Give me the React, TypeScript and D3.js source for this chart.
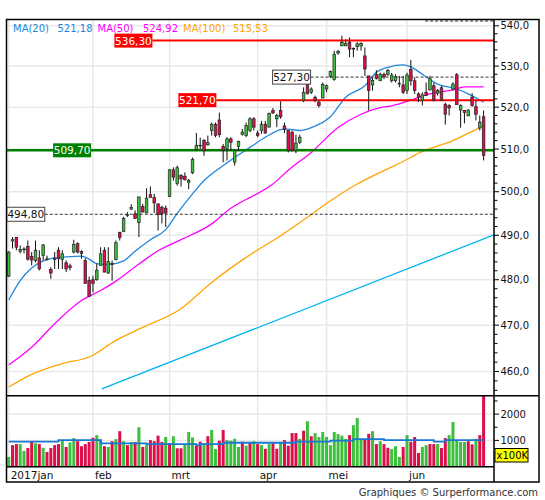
import * as d3 from 'd3';

const monthLabels = ['2017jan', 'feb', 'mrt', 'apr', 'mei', 'jun'];
const monthStarts = [0, 22, 42, 65, 83, 104];

// daily candles, index 0 = first trading day of january
const open = [
  480.8, 488.7, 489.5, 486.3, 486.8, 487.5, 485.2, 484.3, 484.9, 485.4,
  484.6, 482.3, 484.5, 486.6, 484.5, 483.8, 483.1, 486.2, 488.1, 486.3,
  484.3, 479.8, 480.0, 480.0, 483.2, 486.6, 481.5, 483.6, 484.5, 490.7,
  490.9, 494.6, 496.0, 494.9, 492.9, 496.6, 495.1, 499.3, 498.7, 497.2,
  496.4, 496.2, 498.9, 505.1, 501.9, 503.8, 503.6, 502.2, 504.4, 509.9,
  510.8, 512.0, 511.0, 514.4, 515.9, 516.9, 510.6, 510.2, 512.4, 506.9,
  510.6, 513.5, 513.2, 514.4, 517.2, 513.8, 514.4, 515.9, 515.2, 519.2,
  517.2, 519.2, 515.5, 514.4, 514.0, 509.7, 511.6, 521.6, 525.5, 523.6,
  522.4, 521.2, 522.2, 524.4, 527.5, 526.7, 533.2, 535.0, 535.0, 535.8,
  534.4, 534.8, 535.0, 532.5, 527.6, 525.4, 527.9, 526.4, 528.0, 528.0,
  526.4, 526.4, 525.6, 525.4, 524.0, 529.2, 526.4, 523.2, 521.6, 523.6,
  524.2, 525.2, 523.4, 524.7, 520.7, 520.4, 524.4, 527.9, 519.3, 519.2,
  517.9, 522.4, 520.1, 515.0, 517.7,
];
const high = [
  486.4, 489.6, 489.6, 487.7, 487.3, 488.8, 486.2, 488.8, 486.6, 488.0,
  485.4, 482.8, 486.2, 487.3, 486.6, 484.3, 483.6, 489.0, 488.4, 486.6,
  484.8, 480.7, 480.9, 483.6, 487.3, 487.3, 487.3, 484.3, 488.8, 490.7,
  494.2, 495.3, 497.1, 495.7, 498.8, 497.2, 500.8, 501.2, 499.5, 497.2,
  496.8, 496.8, 505.3, 505.7, 506.1, 504.1, 504.5, 503.0, 508.0, 513.8,
  512.7, 512.4, 513.2, 516.3, 516.3, 518.7, 511.2, 512.8, 512.8, 509.6,
  512.0, 514.8, 516.3, 517.6, 517.6, 514.4, 516.7, 516.7, 518.7, 519.8,
  518.4, 521.4, 516.3, 514.4, 514.4, 513.4, 513.4, 524.8, 526.4, 524.8,
  522.8, 521.6, 526.0, 525.5, 528.9, 533.8, 534.0, 537.5, 536.6, 537.1,
  534.6, 535.9, 535.9, 534.6, 527.6, 527.2, 529.0, 528.4, 528.4, 529.3,
  528.3, 528.0, 527.6, 527.6, 528.4, 531.5, 527.2, 523.6, 523.6, 526.0,
  527.6, 526.0, 524.4, 525.2, 521.1, 520.7, 526.0, 528.3, 520.7, 519.3,
  519.5, 523.4, 521.6, 518.0, 519.2,
];
const low = [
  480.6, 487.0, 486.6, 485.9, 485.9, 484.3, 483.2, 483.9, 482.1, 484.3,
  484.3, 480.2, 482.4, 482.4, 482.4, 481.7, 482.1, 485.9, 485.9, 484.7,
  479.1, 476.3, 477.2, 479.8, 483.2, 481.7, 481.3, 479.8, 484.3, 488.8,
  490.7, 494.2, 495.8, 493.8, 489.6, 495.3, 495.1, 498.7, 495.1, 491.1,
  492.7, 491.9, 498.9, 502.6, 501.4, 501.2, 502.6, 500.6, 504.1, 509.6,
  509.9, 508.4, 510.8, 513.2, 512.8, 512.8, 506.9, 507.3, 509.6, 506.1,
  509.6, 513.2, 512.8, 514.0, 514.4, 512.8, 513.6, 513.6, 515.2, 518.4,
  515.2, 517.2, 513.8, 509.2, 509.4, 509.0, 511.2, 521.2, 523.2, 523.2,
  521.2, 519.9, 522.2, 523.6, 527.1, 526.4, 532.8, 535.0, 535.0, 532.2,
  532.2, 533.8, 533.8, 527.6, 519.2, 524.0, 526.7, 526.4, 526.8, 527.6,
  526.0, 526.0, 524.8, 523.2, 523.2, 525.2, 523.2, 521.2, 520.4, 522.8,
  524.0, 521.4, 522.8, 521.6, 515.8, 518.0, 524.0, 520.6, 515.1, 516.1,
  517.9, 520.1, 516.8, 514.4, 507.3,
];
const close = [
  486.2, 489.0, 487.3, 486.8, 486.9, 484.6, 484.4, 486.6, 482.4, 487.8,
  484.7, 481.5, 484.8, 484.7, 485.8, 482.4, 482.7, 487.9, 486.2, 485.9,
  479.2, 476.3, 479.2, 482.1, 485.8, 481.7, 484.1, 483.6, 488.3, 489.5,
  493.8, 494.7, 496.4, 493.8, 498.8, 495.3, 498.5, 498.7, 497.4, 494.7,
  494.9, 495.1, 505.1, 503.4, 505.6, 503.0, 502.8, 502.6, 507.5, 510.9,
  510.9, 509.6, 511.5, 515.9, 513.2, 513.4, 509.6, 512.4, 511.6, 509.6,
  511.8, 514.0, 515.6, 517.2, 515.2, 513.2, 515.9, 513.8, 518.5, 518.6,
  518.0, 517.7, 514.6, 509.6, 509.7, 511.4, 512.8, 523.6, 523.2, 524.4,
  521.6, 520.4, 525.5, 525.2, 528.7, 532.9, 533.6, 535.8, 535.6, 534.2,
  534.2, 535.5, 535.6, 529.3, 524.0, 526.5, 527.0, 528.0, 527.4, 528.9,
  527.8, 527.4, 525.8, 523.6, 527.8, 526.4, 524.0, 522.4, 523.0, 522.8,
  526.9, 521.6, 524.0, 521.6, 518.3, 519.8, 525.6, 520.6, 520.4, 518.7,
  519.3, 520.4, 518.3, 516.4, 508.5,
];

// volume in units of 100K
const volume = [
  370, 820, 860, 860, 600, 710, 940, 890, 860, 720,
  560, 710, 820, 860, 1010, 750, 920, 1090, 970, 780,
  860, 940, 1100, 1200, 1040, 780, 750, 970, 1050, 1350,
  970, 820, 940, 940, 1500, 750, 820, 1010, 970, 1180,
  940, 1130, 900, 1160, 700, 700, 850, 1320, 1110, 800,
  950, 890, 1160, 1400, 670, 990, 1400, 1010, 990, 1060,
  750, 950, 800, 900, 970, 860, 820, 680, 860, 940,
  680, 920, 1010, 800, 1280, 1280, 1060, 1370, 1730, 1160,
  1280, 1130, 1320, 1130, 820, 1320, 1240, 1180, 1060, 1200,
  1580, 1850, 1060, 1030, 1250, 1350, 860, 970, 860, 720,
  670, 780, 370, 750, 1200, 950, 1130, 520, 750, 820,
  860, 860, 860, 710, 1090, 1200, 1700, 1010, 940, 940,
  970, 850, 1060, 1200, 2750,
];
// g = up day, r = down day
const volumeDir = (
  'grrggrrgrg' + 'rrrrgrggrr' + 'rrrggrgrgr' + 'grgrgrgrrr' +
  'rgrgrrgggr' + 'rgrggrrggg' + 'grgrgrgrgr' + 'rgrrrrgrgr' +
  'gggggggggr' + 'gggrrgrgrr' + 'gggrgrrrgg' + 'rrgrrggggg' + 'rrgr'
).split('');

// average volume, stepped: [start index, value]
const volumeAvg: [number, number][] = [
  [0, 950], [13, 1010], [24, 890], [36, 860], [49, 820], [50, 860], [56, 910],
  [75, 950], [84, 990], [90, 1050], [98, 1010], [111, 950], [114, 1010], [124, 1010],
];

const ma20: [number, number][] = [
  [0, 475.5], [3, 479.8], [6, 482.6], [11, 484.7], [15, 485.1], [19, 485.3], [21, 484.6],
  [23, 483.6], [26, 483.4], [30, 484.2], [33, 486.4], [37, 489.0], [41, 491.3], [44, 495.0],
  [48, 499.5], [51, 502.6], [56, 506.1], [59, 508.0], [63, 510.4], [67, 512.8], [72, 514.8],
  [76, 514.4], [79, 515.1], [84, 517.7], [88, 522.4], [93, 525.2], [96, 528.5], [99, 529.7],
  [103, 530.3], [105, 529.8], [108, 528.0], [112, 525.6], [117, 524.4], [120, 523.2], [124, 521.18],
];
const ma50: [number, number][] = [
  [0, 461.4], [6, 465.2], [12, 470.3], [19, 475.4], [24, 477.6], [28, 479.7], [34, 483.5],
  [39, 486.5], [45, 489.0], [53, 492.6], [58, 496.2], [62, 498.2], [65, 499.6], [69, 501.8],
  [73, 505.0], [79, 509.2], [86, 515.1], [92, 518.3], [97, 519.9], [100, 520.3], [105, 521.7],
  [110, 523.2], [116, 524.2], [119, 524.9], [124, 524.92],
];
const ma100: [number, number][] = [
  [0, 456.7], [6, 459.4], [14, 461.7], [21, 463.1], [28, 466.7], [35, 469.5], [45, 473.6],
  [53, 479.4], [62, 485.0], [71, 489.9], [78, 494.1], [84, 497.9], [91, 501.8], [97, 504.5],
  [105, 508.0], [107, 509.0], [116, 512.0], [123, 515.1], [124, 515.53],
];
const trendLine: [number, number][] = [[24.3, 456.3], [126.7, 490.1]];

const levels = [
  { value: 536.3, kind: 'red', from: 27.6 },
  { value: 527.3, kind: 'dash', from: 68.9 },
  { value: 521.7, kind: 'red', from: 44.3 },
  { value: 509.7, kind: 'green', from: 11.6 },
  { value: 494.8, kind: 'dash', from: -0.5 },
  { value: 541.2, kind: 'dash', from: 98.8 },
];

const legend = [
  { text: 'MA(20)', color: '#2187dc', x: 13 },
  { text: '521,18', color: '#2187dc', x: 57.5 },
  { text: 'MA(50)', color: '#ff00ff', x: 97.5 },
  { text: '524,92', color: '#ff00ff', x: 143 },
  { text: 'MA(100)', color: '#ffa500', x: 183 },
  { text: '515,53', color: '#ffa500', x: 233 },
];

const plotLeft = 6.5;
const plotRight = 494;
const frameRight = 539;
const priceTop = 19.5;
const priceBottom = 395.7;
const volBottom = 466.7;
const axisBottom = 482;

const GREEN = '#3cbf3c';
const RED = '#dc0f4b';
const GRID = '#e9e9e9';

const fmt = (v: number, d: number) => v.toFixed(d).replace('.', ',');

export default function App() {
  const x = d3.scaleLinear().domain([0, 124]).range([8.7, 483.6]);
  const y = d3.scaleLog().domain([460, 540]).range([371.5, 25.8]);
  const yv = d3.scaleLinear().domain([0, 2700]).range([volBottom, priceBottom]);

  const maLine = d3
    .line<[number, number]>()
    .x(d => x(d[0]))
    .y(d => y(d[1]))
    .curve(d3.curveMonotoneX);
  const straight = d3
    .line<[number, number]>()
    .x(d => x(d[0]))
    .y(d => y(d[1]));
  const volLine = d3
    .line<[number, number]>()
    .x(d => x(d[0]))
    .y(d => yv(d[1]))
    .curve(d3.curveStepAfter);

  const priceTicks = d3.range(460, 541, 10);
  const minorTicks = d3.range(454, 541, 2).filter(v => v % 10 !== 0 && y(v) < priceBottom - 1);

  return (
    <div style={{ position: 'absolute', left: 0, top: 0 }}>
      <svg width={545} height={500} style={{ display: 'block', background: '#fff' }} fontFamily="DejaVu Sans">
        <defs>
          <clipPath id="pclip">
            <rect x={plotLeft} y={priceTop} width={plotRight - plotLeft} height={priceBottom - priceTop} />
          </clipPath>
          <clipPath id="vclip">
            <rect x={plotLeft} y={priceBottom} width={plotRight - plotLeft} height={volBottom - priceBottom} />
          </clipPath>
        </defs>

        {/* grid */}
        {priceTicks.map(v => (
          <line key={'h' + v} x1={plotLeft} x2={plotRight} y1={y(v)} y2={y(v)} stroke={GRID} strokeWidth={1.5} />
        ))}
        {[1000, 2000].map(v => (
          <line key={'vh' + v} x1={plotLeft} x2={plotRight} y1={yv(v)} y2={yv(v)} stroke={GRID} strokeWidth={1.5} />
        ))}
        {monthStarts.map(m => (
          <line key={'m' + m} x1={x(m)} x2={x(m)} y1={priceTop} y2={volBottom} stroke={GRID} strokeWidth={1.5} />
        ))}

        <g clipPath="url(#pclip)">
          <path d={straight(trendLine) || ''} fill="none" stroke="#00b4f0" strokeWidth={1.3} />
          <path d={maLine(ma100) || ''} fill="none" stroke="#ffa500" strokeWidth={1.3} />
          <path d={maLine(ma50) || ''} fill="none" stroke="#ff00ff" strokeWidth={1.3} />
          <path d={maLine(ma20) || ''} fill="none" stroke="#2187dc" strokeWidth={1.3} />

          {levels.map(l => {
            const ly = y(l.value);
            const start = l.kind === 'green' ? plotLeft : x(l.from) + 38;
            if (l.kind === 'dash') {
              return (
                <line key={'l' + l.value} x1={start} x2={plotRight} y1={ly} y2={ly}
                  stroke="#333" strokeWidth={1} strokeDasharray="3,2" />
              );
            }
            return (
              <line key={'l' + l.value} x1={start} x2={plotRight} y1={ly} y2={ly}
                stroke={l.kind === 'red' ? '#ff0000' : '#008000'} strokeWidth={l.kind === 'red' ? 2 : 2.5} />
            );
          })}

          {open.map((o, i) => {
            const c = close[i];
            const up = c >= o;
            const top = y(Math.max(o, c));
            const bot = y(Math.min(o, c));
            return (
              <g key={'c' + i}>
                <line x1={x(i)} x2={x(i)} y1={y(high[i])} y2={y(low[i])} stroke="#111" strokeWidth={1} />
                <rect x={x(i) - 1.3} y={top} width={2.6} height={Math.max(bot - top, 0.8)}
                  fill={up ? GREEN : RED} stroke="#222" strokeWidth={0.7} />
              </g>
            );
          })}
        </g>

        {/* level labels */}
        {levels.map(l => {
          const ly = y(l.value);
          if (ly - 7 < priceTop) return null;
          const bx = Math.max(x(l.from), plotLeft);
          const fill = l.kind === 'red' ? '#ff0000' : l.kind === 'green' ? '#008000' : '#fff';
          return (
            <g key={'lb' + l.value}>
              <rect x={bx} y={ly - 7} width={38} height={14} fill={fill}
                stroke={l.kind === 'dash' ? '#444' : 'none'} strokeWidth={1} />
              <text x={bx + 19} y={ly + 4} textAnchor="middle" fontSize={10.5}
                fill={l.kind === 'dash' ? '#111' : '#fff'}>
                {fmt(l.value, 2)}
              </text>
            </g>
          );
        })}

        {legend.map(t => (
          <text key={t.text + t.x} x={t.x} y={31.5} fontSize={10} fill={t.color}>{t.text}</text>
        ))}

        {/* volume */}
        <g clipPath="url(#vclip)">
          {volume.map((v, i) => (
            <rect key={'v' + i} x={x(i) - 1.5} y={yv(v)} width={3} height={volBottom - yv(v)}
              fill={volumeDir[i] === 'g' ? GREEN : RED} />
          ))}
          <path d={volLine(volumeAvg) || ''} fill="none" stroke="#1a78d4" strokeWidth={1.8} />
        </g>

        {/* frame */}
        <rect x={plotLeft} y={priceTop} width={frameRight - plotLeft} height={axisBottom - priceTop}
          fill="none" stroke="#000" strokeWidth={1.5} />
        <line x1={plotRight} x2={plotRight} y1={priceTop} y2={axisBottom} stroke="#000" strokeWidth={1.5} />
        <line x1={plotLeft} x2={frameRight} y1={priceBottom} y2={priceBottom} stroke="#000" strokeWidth={1.5} />
        <line x1={plotLeft} x2={plotRight} y1={volBottom} y2={volBottom} stroke="#000" strokeWidth={1.5} />

        {/* price axis */}
        {priceTicks.map(v => (
          <g key={'t' + v}>
            <line x1={plotRight} x2={plotRight + 5} y1={y(v)} y2={y(v)} stroke="#000" />
            <text x={500.5} y={y(v) + 3.6} fontSize={10} fill="#111">{fmt(v, 1)}</text>
          </g>
        ))}
        {minorTicks.map(v => (
          <line key={'mt' + v} x1={plotRight} x2={plotRight + 3.5} y1={y(v)} y2={y(v)} stroke="#000" />
        ))}

        {/* volume axis */}
        {[1000, 2000].map(v => (
          <g key={'vt' + v}>
            <line x1={plotRight} x2={plotRight + 5} y1={yv(v)} y2={yv(v)} stroke="#000" />
            <text x={500.5} y={yv(v) + 3.6} fontSize={10} fill="#111">{v}</text>
          </g>
        ))}
        {[500, 1500, 2500].map(v => (
          <line key={'vm' + v} x1={plotRight} x2={plotRight + 3.5} y1={yv(v)} y2={yv(v)} stroke="#000" />
        ))}
        <rect x={495} y={448.5} width={33} height={13.5} fill="#ffff00" stroke="#000" strokeWidth={1} />
        <text x={496.5} y={459} fontSize={10} fill="#000">x100K</text>

        {/* months */}
        {monthStarts.map((m, k) => (
          <text key={'ml' + m} x={x(m) + 2} y={478.5} fontSize={10.5} fill="#111">{monthLabels[k]}</text>
        ))}

        <text x={538} y={495.5} textAnchor="end" fontSize={10} fill="#333">
          Graphiques © Surperformance.com
        </text>
      </svg>
    </div>
  );
}
